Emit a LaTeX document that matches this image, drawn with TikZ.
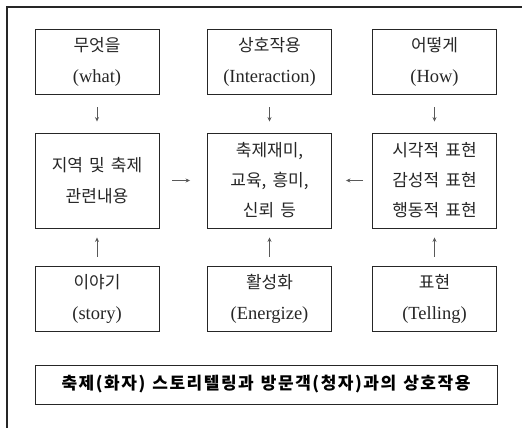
\documentclass[tikz,border=0pt]{standalone}
\usepackage{fontspec}
\setmainfont{Liberation Serif}
\newfontfamily\kr[WordSpace=1.6]{Noto Sans CJK KR}
\newfontfamily\krb[LetterSpace=9, WordSpace=1.3]{Noto Sans CJK KR}
\usetikzlibrary{arrows.meta}
\newcommand{\ko}[1]{{\kr\fontsize{17}{31}\selectfont #1}}
\tikzset{
  box/.style={draw=black!85, line width=0.9pt, minimum width=124pt, inner sep=0pt, align=center, text=black!85, font=\fontsize{18.5}{31}\selectfont},
  arr/.style={draw=black!65, line width=0.7pt, -{Stealth[length=4.5pt,width=4pt]}},
  banner/.style={draw=black!85, line width=0.9pt, minimum width=462pt, minimum height=39pt, inner sep=0pt, font=\krb\bfseries\fontsize{17}{20}\selectfont}
}
\begin{document}
\begin{tikzpicture}[x=1pt,y=-1pt]
\useasboundingbox (0,0) rectangle (522,428);
% outer frame (partly cut off)
\draw[line width=1.5pt, black!85] (7,428) -- (7,7) -- (522,7);
% row 1
\node[box, minimum height=65pt] (what) at (97,61.5) {\ko{무엇을}\\(what)};
\node[box, minimum height=65pt] (inter) at (269.5,61.5) {\ko{상호작용}\\(Interaction)};
\node[box, minimum height=65pt] (how) at (434.5,61.5) {\ko{어떻게}\\(How)};
% row 2
\node[box, minimum height=95pt] (local) at (97,180.5) {\ko{지역 및 축제}\\\ko{관련내용}};
\node[box, minimum height=95pt, font=\fontsize{17}{30}\selectfont] (fun) at (269.5,180.5) {\ko{축제재미,}\\\ko{교육, 흥미,}\\\ko{신뢰 등}};
\node[box, minimum height=95pt, font=\fontsize{17}{30}\selectfont] (expr) at (434.5,180.5) {\ko{시각적 표현}\\\ko{감성적 표현}\\\ko{행동적 표현}};
% row 3
\node[box, minimum height=65pt] (story) at (97,298.5) {\ko{이야기}\\(story)};
\node[box, minimum height=65pt] (energ) at (269.5,298.5) {\ko{활성화}\\(Energize)};
\node[box, minimum height=65pt] (tell) at (434.5,298.5) {\ko{표현}\\(Telling)};
% banner
\node[banner] (ban) at (266,384.5) {축제(화자) 스토리텔링과 방문객(청자)과의 상호작용};
% arrows
\draw[arr, shorten <=13pt, shorten >=11pt] (what) -- (local);
\draw[arr, shorten <=13pt, shorten >=11pt] (inter) -- (fun);
\draw[arr, shorten <=13pt, shorten >=11pt] (how) -- (expr);
\draw[arr, shorten <=9pt, shorten >=9pt] (story) -- (local);
\draw[arr, shorten <=9pt, shorten >=9pt] (energ) -- (fun);
\draw[arr, shorten <=9pt, shorten >=9pt] (tell) -- (expr);
\draw[arr, shorten <=13pt, shorten >=17pt] (local) -- (fun);
\draw[arr, shorten <=9pt, shorten >=14pt] (expr) -- (fun);
\end{tikzpicture}
\end{document}
